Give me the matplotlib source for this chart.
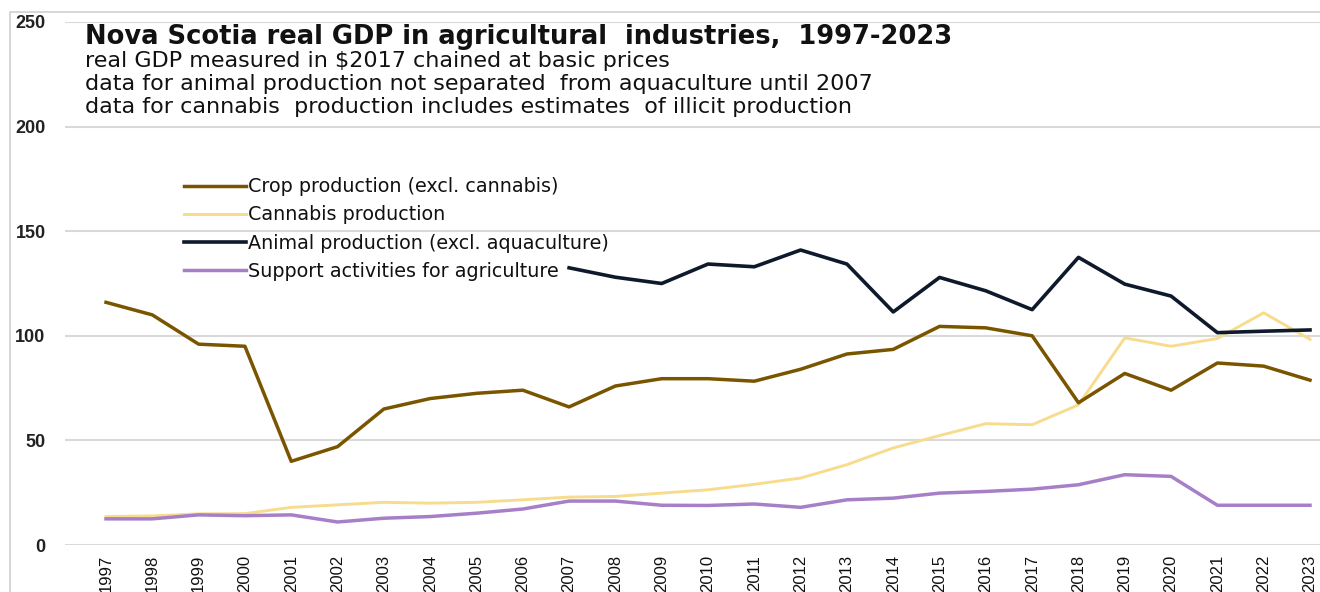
import matplotlib
matplotlib.use("Agg")
import matplotlib.pyplot as plt
from matplotlib.patches import Rectangle

years = list(range(1997, 2024))
year_labels = [str(y) for y in years]

crop = [116, 110, 96, 95, 40, 47, 65, 70, 72.5, 74, 66, 76, 79.5, 79.5, 78.3, 84,
        91.3, 93.5, 104.5, 103.8, 100, 68, 82, 74, 87, 85.5, 78.8]
cannabis = [13.6, 13.9, 14.9, 15, 18, 19.2, 20.4, 20, 20.4, 21.6, 22.9, 23.2, 24.8,
            26.4, 29, 32, 38.4, 46.4, 52.3, 58, 57.5, 67, 99, 95, 98.7, 111, 98.3]
animal_years = list(range(2007, 2024))
animal = [132.5, 128, 125, 134.3, 133, 141, 134.3, 111.4, 127.9, 121.5, 112.5,
          137.5, 124.7, 119, 101.5, 102.2, 102.8]
support = [12.5, 12.5, 14.4, 14, 14.4, 11, 12.8, 13.6, 15.2, 17.2, 21, 21, 19,
           18.9, 19.6, 18, 21.6, 22.4, 24.8, 25.6, 26.7, 28.8, 33.6, 32.8, 19, 19, 19]

series_names = ["Crop production (excl. cannabis)", "Cannabis production",
                "Animal production (excl. aquaculture)", "Support activities for agriculture"]
colors = ["#7a5500", "#f7dc8e", "#0e1a2b", "#a77fc9"]

title = "Nova Scotia real GDP in agricultural  industries,  1997-2023"
subtitles = ["real GDP measured in $2017 chained at basic prices",
             "data for animal production not separated  from aquaculture until 2007",
             "data for cannabis  production includes estimates  of illicit production"]

W, H = 1320, 592
fig = plt.figure(figsize=(W / 100, H / 100), dpi=100)
ax = fig.add_axes([65 / W, 1 - 545 / H, (1320 - 65) / W, (545 - 22) / H])

ax.plot(years, crop, color=colors[0], lw=2.5, label=series_names[0], zorder=3)
ax.plot(years, cannabis, color=colors[1], lw=2.1, label=series_names[1], zorder=2)
ax.plot(animal_years, animal, color=colors[2], lw=2.6, label=series_names[2], zorder=4)
ax.plot(years, support, color=colors[3], lw=2.5, label=series_names[3], zorder=3)

step = (1310 - 106) / 26
ax.set_xlim(1997 - (106 - 65) / step, 2023 + (1320 - 1310) / step)
ax.set_ylim(0, 250)
ax.set_yticks([0, 50, 100, 150, 200, 250])
ax.set_yticklabels(["0", "50", "100", "150", "200", "250"],
                   fontfamily="Liberation Sans", fontweight="bold", fontsize=13, color="#222222")
ax.set_xticks(years)
ax.set_xticklabels(year_labels, rotation=90, fontfamily="Liberation Sans",
                   fontsize=12, color="#111111", va="top")
ax.tick_params(axis="both", length=0)
ax.tick_params(axis="y", pad=14)
ax.tick_params(axis="x", pad=7)
ax.grid(axis="y", color="#d9d9d9", lw=1.5)
ax.set_axisbelow(True)
for s in ax.spines.values():
    s.set_visible(False)

leg = ax.legend(loc="upper left", bbox_to_anchor=(167 / W, 1 - 160 / H),
                bbox_transform=fig.transFigure, frameon=False,
                prop={"family": "DejaVu Sans", "size": 13.8},
                handlelength=3.2, handletextpad=0.15, labelspacing=0.48)
for t in leg.get_texts():
    t.set_color("#111111")

fig.text(85 / W, 1 - 37 / H, title, fontfamily="DejaVu Sans", fontweight="bold",
         fontsize=18.5, va="center", ha="left", color="#111111")
for i, s in enumerate(subtitles):
    fig.text(85 / W, 1 - (61 + 23 * i) / H, s, fontfamily="DejaVu Sans",
             fontsize=16, va="center", ha="left", color="#111111")

fig.patches.append(Rectangle((10 / W, -0.1), 1.2, 1 - 12 / H + 0.1, transform=fig.transFigure,
                             fill=False, edgecolor="#d0d0d0", lw=1.2))

fig.savefig("out.png", dpi=100)
